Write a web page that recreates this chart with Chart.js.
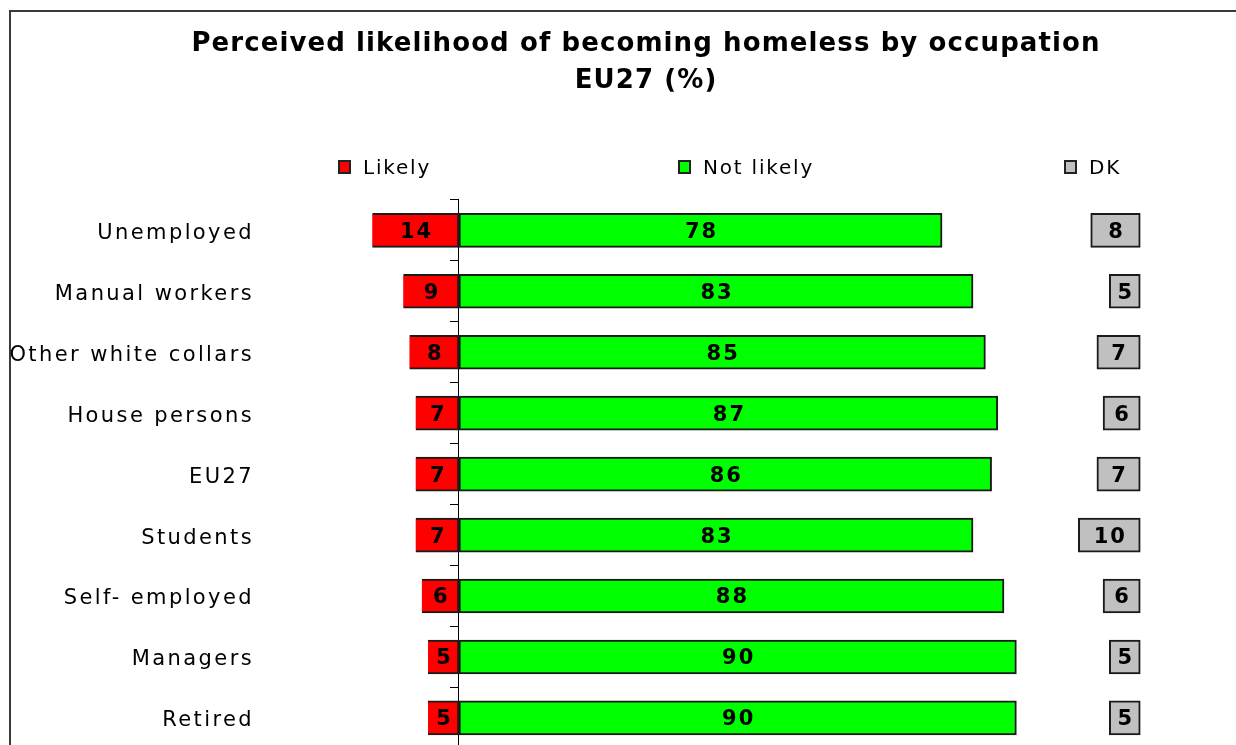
<!DOCTYPE html>
<html>
<head>
<meta charset="utf-8">
<script src="https://cdn.jsdelivr.net/npm/chart.js@4"></script>
<style>
    html, body { margin: 0; padding: 0; background: #fff; overflow: hidden; }
    #frame { position: absolute; left: 9px; top: 10px; width: 1400px; height: 900px; border-top: 2px solid #3a3a3a; border-left: 2px solid #3a3a3a; }
    #chart { position: absolute; left: 0; top: 0; }
    #legend { position: absolute; top: 155px; left: 0; font: 20px "DejaVu Sans"; letter-spacing: 1.8px; color: #000; }
    .item { position: absolute; white-space: nowrap; display: flex; align-items: center; height: 24px; }
    .box { display: inline-block; width: 13px; height: 14px; box-sizing: border-box; border: 2px solid #222; margin-right: 12px; }
</style>
</head>
<body>
<div id="frame"></div>
<canvas id="chart" width="1300" height="761"></canvas>
<div id="legend"></div>
<script>
    const categories = ['Unemployed', 'Manual workers', 'Other white collars', 'House persons', 'EU27', 'Students', 'Self- employed', 'Managers', 'Retired'];
    const likely = [14, 9, 8, 7, 7, 7, 6, 5, 5];
    const notLikely = [78, 83, 85, 87, 86, 83, 88, 90, 90];
    const dk = [8, 5, 7, 6, 7, 10, 6, 5, 5];
    const seriesNames = ['Likely', 'Not likely', 'DK'];
    const seriesColors = ['#ff0000', '#00ff00', '#c0c0c0'];

    // DK bars are right-aligned at this value of the x scale
    const DK_END = 110;

    const legendLeft = [338, 678, 1064];

    function buildLegend() {
        const el = document.getElementById('legend');
        el.innerHTML = seriesNames.map((name, i) => `
            <div class="item" style="left:${legendLeft[i]}px">
                <span class="box" style="background:${seriesColors[i]}"></span><span>${name}</span>
            </div>`).join('');
    }

    // value labels in the middle of each bar
    const valueLabels = {
        id: 'valueLabels',
        afterDatasetsDraw(chart) {
            const ctx = chart.ctx;
            const sources = [likely, notLikely, dk];
            ctx.save();
            ctx.font = 'bold 21px "DejaVu Sans"';
            ctx.letterSpacing = '2px';
            ctx.fillStyle = '#000';
            ctx.textAlign = 'center';
            ctx.textBaseline = 'middle';
            chart.data.datasets.forEach((ds, di) => {
                chart.getDatasetMeta(di).data.forEach((bar, i) => {
                    const p = bar.getCenterPoint();
                    ctx.fillText(String(sources[di][i]), p.x + 1, p.y + 2);
                });
            });
            ctx.restore();
        }
    };

    // wider tracking on the text, like the original
    const tracking = {
        id: 'tracking',
        beforeDraw(chart) {
            chart.ctx.letterSpacing = '1.1px';
            const s = chart.scales.y;
            if (s && !s._tracked) {
                const orig = s.drawLabels.bind(s);
                s.drawLabels = function(area) {
                    const prev = this.ctx.letterSpacing;
                    this.ctx.letterSpacing = '2.4px';
                    orig(area);
                    this.ctx.letterSpacing = prev;
                };
                s._tracked = true;
            }
        }
    };

    const barStyle = {
        barThickness: 34,
        borderWidth: 2,
        borderColor: '#1a1a1a',
        grouped: false,
        yAxisID: 'y',
        xAxisID: 'x'
    };

    new Chart(document.getElementById('chart'), {
        type: 'bar',
        data: {
            labels: categories,
            datasets: [
                Object.assign({ label: seriesNames[0], data: likely.map(v => [-v, 0]), backgroundColor: seriesColors[0], borderSkipped: 'end' }, barStyle),
                Object.assign({ label: seriesNames[1], data: notLikely.map(v => [0, v]), backgroundColor: seriesColors[1], borderSkipped: false }, barStyle),
                Object.assign({ label: seriesNames[2], data: dk.map(v => [DK_END - v, DK_END]), backgroundColor: seriesColors[2], borderSkipped: false }, barStyle)
            ]
        },
        options: {
            indexAxis: 'y',
            responsive: false,
            animation: false,
            layout: { padding: { left: 0, right: 8, top: 0, bottom: 3 } },
            plugins: {
                legend: { display: false },
                tooltip: { enabled: false },
                title: {
                    display: true,
                    text: ['Perceived likelihood of becoming homeless by occupation', 'EU27 (%)'],
                    color: '#000',
                    font: { family: 'DejaVu Sans', size: 26, weight: 'bold', lineHeight: 1.42 },
                    padding: { top: 26, bottom: 100 }
                }
            },
            scales: {
                x: {
                    type: 'linear',
                    display: false,
                    min: -31.8,
                    max: 134.5
                },
                y: {
                    type: 'category',
                    position: 'left',
                    offset: true,
                    grid: { display: false, offset: true },
                    border: { display: false },
                    ticks: {
                        color: '#000',
                        padding: 0,
                        labelOffset: 3,
                        font: { family: 'DejaVu Sans', size: 21 }
                    },
                    afterFit(scale) { scale.width = 262; }
                },
                y2: {
                    type: 'category',
                    position: { x: 0 },
                    offset: true,
                    grid: { offset: true, drawOnChartArea: false, drawTicks: true, tickLength: 8, color: '#000', lineWidth: 1 },
                    border: { display: true, color: '#000', width: 1 },
                    ticks: { display: false }
                }
            }
        },
        plugins: [tracking, valueLabels]
    });

    buildLegend();
</script>
</body>
</html>
